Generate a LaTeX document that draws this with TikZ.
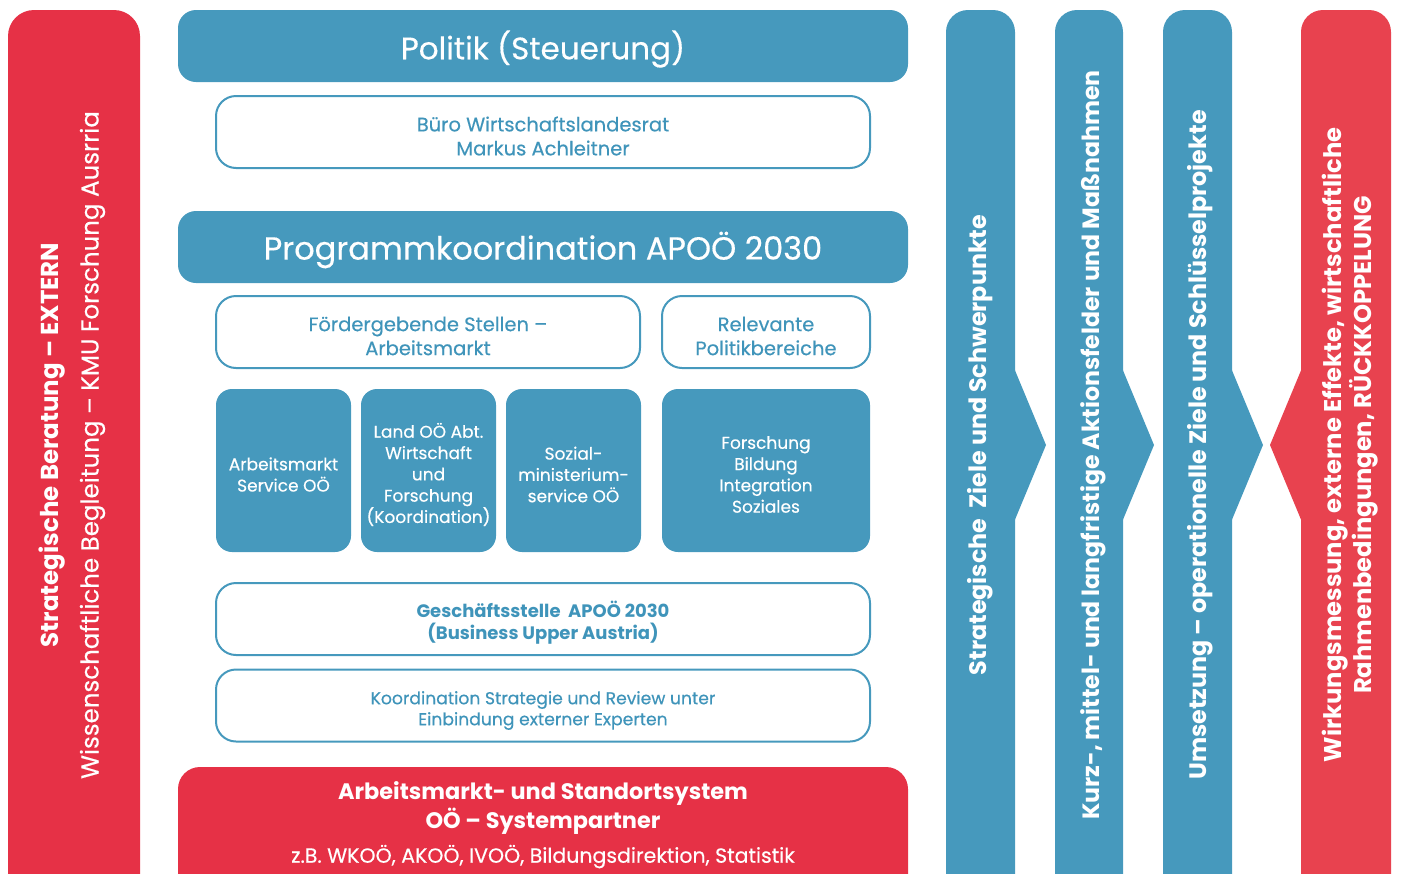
\documentclass[tikz,border=0pt]{standalone}
\usepackage{fontspec}
\setmainfont{Poppins}[UprightFeatures={FakeBold=0.35}]
\usetikzlibrary{positioning}
\definecolor{cblue}{HTML}{4699BD}
\definecolor{cred}{HTML}{E63146}
\definecolor{cred2}{HTML}{E8424F}
\definecolor{ctext}{HTML}{3F94BA}
\newcommand{\fs}[2]{\fontsize{#1}{#2}\selectfont}
\tikzset{
  bluebox/.style={fill=cblue, rounded corners=16pt, inner sep=0pt},
  headbox/.style={fill=cblue, rounded corners=18pt, inner sep=0pt, minimum width=730pt, minimum height=72pt},
  whitebox/.style={draw=cblue, line width=2pt, fill=white, rounded corners=20pt, inner sep=0pt, minimum height=72pt},
  smallbox/.style={bluebox, minimum width=135pt, minimum height=163pt},
  wlabel/.style={text=white, align=center, inner sep=0pt},
  blabel/.style={text=ctext, align=center, inner sep=0pt},
  vtext/.style={rotate=90, text=white, align=center, inner sep=0pt}
}
\begin{document}
\begin{tikzpicture}[x=1pt,y=-1pt]
\useasboundingbox (0,0) rectangle (1402,873);
\clip (0,0) rectangle (1402,873);
% left red bar
\fill[cred, rounded corners=26pt] (8,10) rectangle (140,900);
\node[vtext, font=\fs{24.5}{40}] (left) at (72,445) {{\bfseries Strategische Beratung – EXTERN}\\Wissenschaftliche Begleitung – KMU Forschung Ausrria};
% central column
\node[headbox] (politik) at (543,46) {};
\node[wlabel, font=\fs{31}{34}] (politik-t) at ([yshift=-3pt]politik.center) {Politik (Steuerung)};
\node[whitebox, minimum width=654pt] (buero) at (543,132) {};
\node[blabel, font=\fs{19.5}{24}] (buero-t) at ([yshift=-4pt]buero.center) {Büro Wirtschaftslandesrat\\Markus Achleitner};
\node[headbox] (prog) at (543,247) {};
\node[wlabel, font=\fs{32}{34}] (prog-t) at ([yshift=-3pt]prog.center) {Programmkoordination APOÖ 2030};
\node[whitebox, minimum width=424pt] (foerd) at (428,332) {};
\node[blabel, font=\fs{19.5}{24}] (foerd-t) at ([yshift=-4pt]foerd.center) {Fördergebende Stellen –\\Arbeitsmarkt};
\node[whitebox, minimum width=208pt] (relev) at (766,332) {};
\node[blabel, font=\fs{19.5}{24}] (relev-t) at ([yshift=-4pt]relev.center) {Relevante\\Politikbereiche};
\node[smallbox] (ams) at (283.5,470.5) {};
\node[wlabel, font=\fs{17}{21.3}] (ams-t) at ([yshift=-4pt]ams.center) {Arbeitsmarkt\\Service OÖ};
\node[smallbox] (land) at (428.5,470.5) {};
\node[wlabel, font=\fs{17}{21.3}] (land-t) at ([yshift=-4pt]land.center) {Land OÖ Abt.\\Wirtschaft\\und\\Forschung\\(Koordination)};
\node[smallbox] (sozial) at (573.5,470.5) {};
\node[wlabel, font=\fs{17}{21.3}] (sozial-t) at ([yshift=-4pt]sozial.center) {Sozial-\\ministerium-\\service OÖ};
\node[bluebox, minimum width=208pt, minimum height=163pt] (forsch) at (766,470.5) {};
\node[wlabel, font=\fs{17}{21.3}] (forsch-t) at ([yshift=-4pt]forsch.center) {Forschung\\Bildung\\Integration\\Soziales};
\node[whitebox, minimum width=654pt] (gesch) at (543,619) {};
\node[blabel, font=\bfseries\fs{18}{22}] (gesch-t) at ([yshift=-4pt]gesch.center) {Geschäftsstelle\ \ APOÖ 2030\\(Business Upper Austria)};
\node[whitebox, minimum width=654pt] (koord) at (543,705.5) {};
\node[blabel, font=\fs{17.2}{21}] (koord-t) at ([yshift=-5pt]koord.center) {Koordination Strategie und Review unter\\Einbindung externer Experten};
\fill[cred, rounded corners=22pt] (178,767) rectangle (908,920);
\node[wlabel, font=\bfseries\fs{22.4}{29}] (sys) at (543,808) {Arbeitsmarkt- und Standortsystem\\OÖ – Systempartner};
\node[wlabel, font=\fs{20.5}{20}, below=10pt of sys] (sysb) {z.B. WKOÖ, AKOÖ, IVOÖ, Bildungsdirektion, Statistik};
% chevron bars
\fill[cblue, rounded corners=22pt] (946,10) rectangle (1015,900);
\fill[cblue] (1014,368) -- (1046,445) -- (1014,522) -- cycle;
\fill[cblue, rounded corners=22pt] (1055,10) rectangle (1123,900);
\fill[cblue] (1122,368) -- (1154,445) -- (1122,522) -- cycle;
\fill[cblue, rounded corners=22pt] (1163,10) rectangle (1232,900);
\fill[cblue] (1231,368) -- (1263,445) -- (1231,522) -- cycle;
\fill[cred2, rounded corners=22pt] (1301,10) rectangle (1391,900);
\fill[cred2] (1302,368) -- (1270,445) -- (1302,522) -- cycle;
\node[vtext, font=\bfseries\fs{23.8}{26}] (c1) at (980,445) {Strategische\ \ Ziele und Schwerpunkte};
\node[vtext, font=\bfseries\fs{23.6}{26}] (c2) at (1093,445) {Kurz-, mittel- und langfristige Aktionsfelder und Maßnahmen};
\node[vtext, font=\bfseries\fs{23.8}{26}] (c3) at (1200,445) {Umsetzung – operationelle Ziele und Schlüsselprojekte};
\node[vtext, font=\bfseries\fs{24.2}{27}] (c4) at (1350,445) {Wirkungsmessung, externe Effekte, wirtschaftliche\\Rahmenbedingungen, RÜCKKOPPELUNG};
\end{tikzpicture}
\end{document}
